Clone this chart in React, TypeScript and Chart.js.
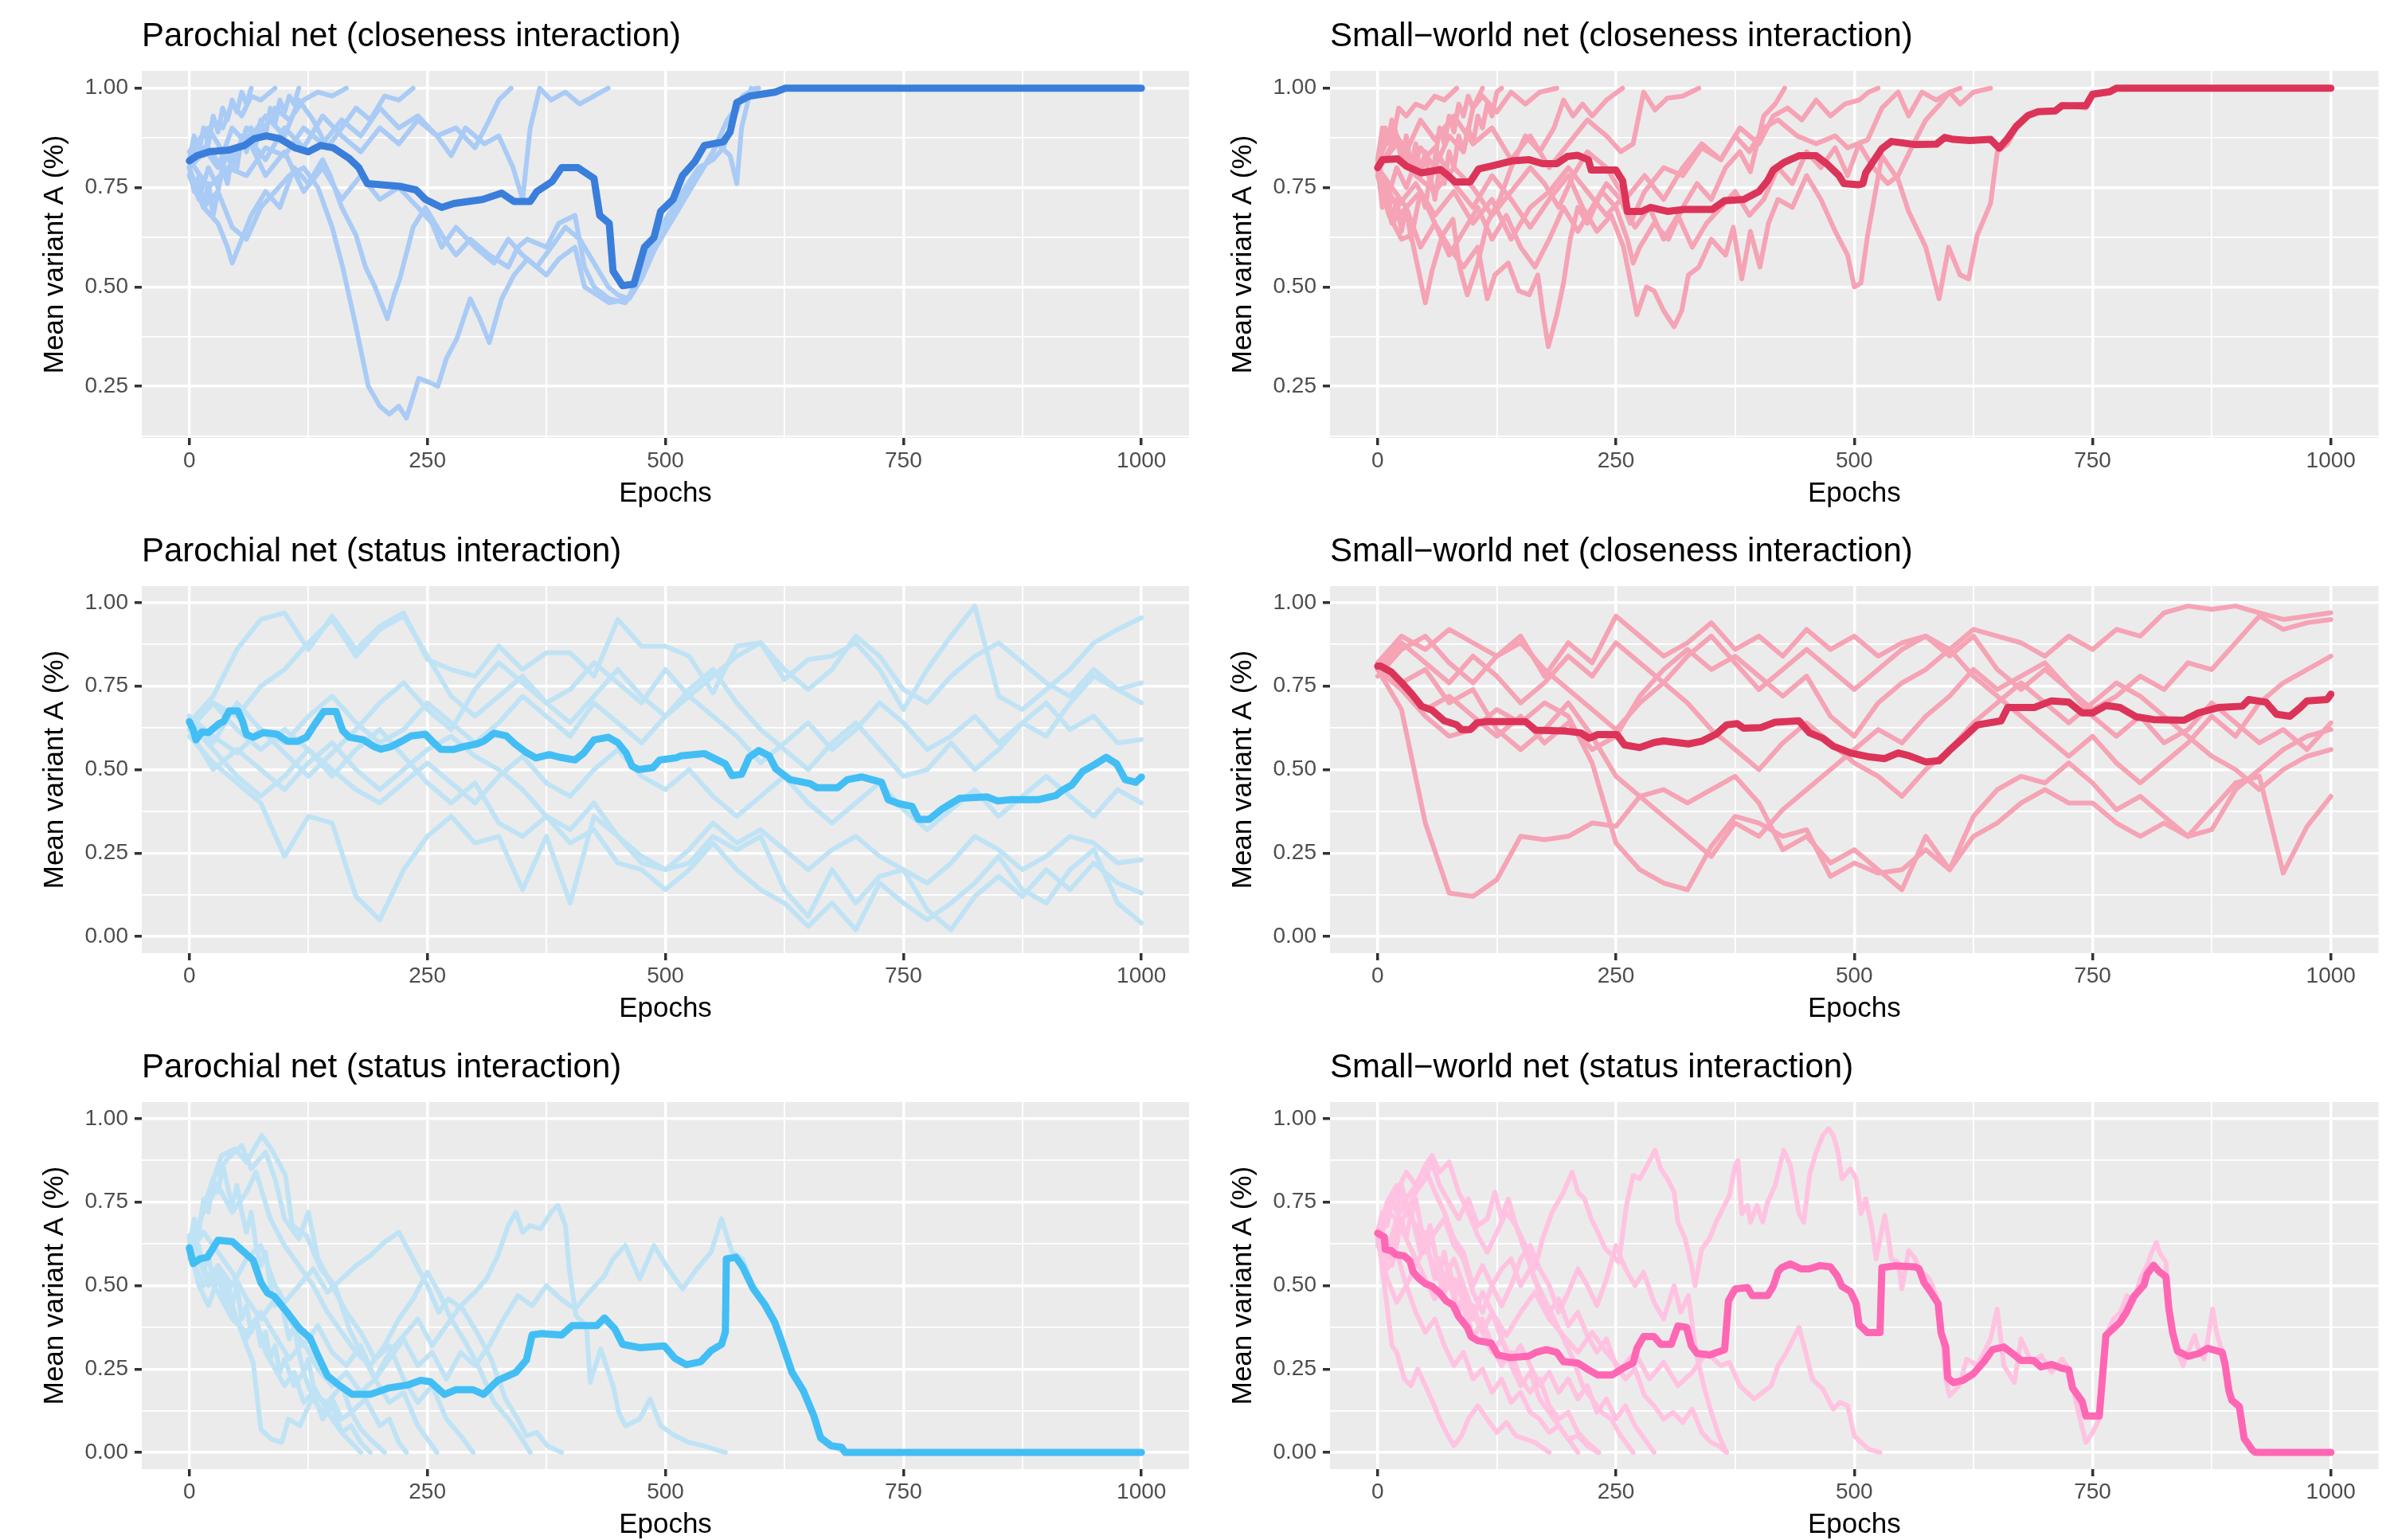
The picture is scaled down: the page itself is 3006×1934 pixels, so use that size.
import React, { useEffect, useRef } from "react";
import { Chart, registerables } from "chart.js";

Chart.register(...registerables);

type Pt = [number, number];

const FONT = "'Liberation Sans', Arial, Helvetica, sans-serif";

// ---------- axis ticks ----------
const xMajorTicks = [0, 250, 500, 750, 1000];
const xAllTicks = [0, 125, 250, 375, 500, 625, 750, 875, 1000];
const yMajorTop = [0.25, 0.5, 0.75, 1.0];
const yAllTop = [0.125, 0.25, 0.375, 0.5, 0.625, 0.75, 0.875, 1.0];
const yMajorFull = [0, 0.25, 0.5, 0.75, 1.0];
const yAllFull = [0, 0.125, 0.25, 0.375, 0.5, 0.625, 0.75, 0.875, 1.0];

// ---------- titles ----------
const titles = [
  "Parochial net (closeness interaction)",
  "Small\u2212world net (closeness interaction)",
  "Parochial net (status interaction)",
  "Small\u2212world net (closeness interaction)",
  "Parochial net (status interaction)",
  "Small\u2212world net (status interaction)",
];

// ---------- Panel 1: Parochial closeness ----------
const p1Mean: Pt[] = [[0,0.817],[8,0.83],[21,0.84],[41,0.844],[58,0.856],[68,0.873],[81,0.88],[95,0.873],[111,0.85],[125,0.84],[138,0.856],[151,0.85],[168,0.823],[178,0.8],[187,0.76],[201,0.757],[221,0.753],[238,0.744],[248,0.72],[265,0.7],[278,0.71],[308,0.72],[328,0.736],[341,0.715],[358,0.715],[365,0.74],[381,0.765],[391,0.8],[408,0.8],[425,0.773],[431,0.68],[441,0.66],[445,0.54],[455,0.503],[467,0.507],[478,0.6],[488,0.624],[495,0.69],[508,0.72],[518,0.78],[531,0.815],[541,0.856],[561,0.865],[568,0.89],[575,0.964],[588,0.98],[615,0.99],[626,1.0],[1000,1.0]];
const p1Run1: Pt[] = [[0,0.8],[8,0.86],[15,0.83],[25,0.92],[35,0.9],[45,0.96],[55,0.93],[65,0.98],[75,0.97],[90,1.0]];
const p1Run2: Pt[] = [[0,0.78],[10,0.72],[20,0.8],[30,0.75],[40,0.85],[50,0.82],[60,0.9],[75,0.88],[90,0.95],[105,0.92],[120,0.97],[135,0.99],[150,0.98],[165,1.0]];
const p1Run3: Pt[] = [[0,0.8],[15,0.85],[30,0.8],[45,0.9],[60,0.86],[80,0.93],[100,0.88],[115,0.97],[130,0.92],[145,0.85],[160,0.9],[175,0.95],[190,0.92],[205,0.98],[220,0.97],[235,1.0]];
const p1Run4: Pt[] = [[0,0.82],[20,0.75],[40,0.8],[60,0.78],[80,0.85],[100,0.83],[120,0.9],[140,0.86],[160,0.92],[180,0.88],[200,0.95],[220,0.9],[240,0.93],[260,0.88],[280,0.9],[300,0.85],[315,0.92],[325,0.97],[338,1.0]];
const p1Run5: Pt[] = [[0,0.8],[20,0.85],[40,0.78],[60,0.88],[80,0.82],[100,0.9],[120,0.85],[140,0.93],[160,0.88],[180,0.84],[200,0.9],[220,0.86],[240,0.92],[260,0.88],[275,0.83],[290,0.9],[310,0.86],[325,0.88],[340,0.8],[350,0.72],[358,0.9],[368,1.0],[380,0.97],[395,0.99],[410,0.96],[425,0.98],[440,1.0]];
const p1Run6: Pt[] = [[0,0.8],[15,0.7],[30,0.74],[45,0.65],[60,0.62],[75,0.7],[90,0.74],[105,0.78],[120,0.8],[135,0.75],[150,0.65],[161,0.55],[175,0.4],[188,0.25],[200,0.2],[210,0.18],[220,0.2],[228,0.17],[241,0.27],[252,0.26],[261,0.25],[270,0.32],[281,0.37],[295,0.47],[305,0.42],[315,0.36],[328,0.47],[341,0.53],[355,0.57],[375,0.53],[388,0.57],[405,0.6],[415,0.5],[428,0.48],[441,0.46],[461,0.47],[475,0.55],[495,0.65],[508,0.7],[521,0.75],[535,0.8],[550,0.82],[561,0.85],[568,0.9],[581,0.98],[595,1.0]];
const p1Run7: Pt[] = [[0,0.78],[15,0.7],[30,0.66],[40,0.6],[45,0.56],[55,0.62],[65,0.68],[80,0.74],[95,0.7],[110,0.8],[125,0.76],[140,0.82],[148,0.78],[160,0.7],[175,0.63],[185,0.55],[195,0.5],[208,0.42],[215,0.48],[221,0.52],[235,0.65],[248,0.7],[258,0.66],[268,0.62],[280,0.58],[295,0.62],[315,0.58],[335,0.55],[345,0.6],[355,0.62],[375,0.6],[388,0.66],[405,0.68],[415,0.55],[425,0.5],[441,0.47],[458,0.46],[468,0.5],[480,0.56],[495,0.62],[510,0.7],[525,0.75],[540,0.8],[555,0.86],[568,0.83],[575,0.76],[580,0.9],[590,1.0]];
const p1Run8: Pt[] = [[0,0.84],[20,0.9],[40,0.82],[60,0.88],[80,0.78],[100,0.84],[120,0.74],[140,0.8],[160,0.72],[180,0.78],[200,0.72],[220,0.75],[240,0.7],[255,0.66],[265,0.6],[280,0.65],[300,0.6],[320,0.56],[335,0.62],[350,0.58],[365,0.55],[380,0.6],[395,0.65],[410,0.62],[425,0.56],[440,0.5],[450,0.48],[462,0.47],[475,0.52],[490,0.6],[505,0.66],[520,0.72],[535,0.78],[550,0.84],[565,0.92],[580,0.97],[598,1.0]];
const p1Run9: Pt[] = [[0,0.82],[5,0.88],[10,0.84],[15,0.9],[20,0.86],[25,0.93],[30,0.89],[35,0.95],[40,0.92],[45,0.97],[50,0.94],[55,0.99],[60,0.96],[65,1.0]];
const p1Run10: Pt[] = [[0,0.8],[5,0.74],[10,0.78],[15,0.7],[20,0.76],[25,0.68],[30,0.74],[35,0.8],[40,0.76],[45,0.84],[50,0.8],[55,0.88],[60,0.84],[65,0.9],[70,0.86],[75,0.92],[80,0.88],[85,0.95],[90,0.91],[95,0.97],[100,0.94],[105,0.98],[110,0.96],[115,1.0]];

// ---------- Panel 2: Small-world closeness ----------
const p2Mean: Pt[] = [[0,0.8],[5,0.82],[21,0.822],[30,0.804],[46,0.787],[54,0.79],[66,0.795],[74,0.78],[81,0.764],[97,0.764],[106,0.797],[119,0.804],[141,0.817],[159,0.82],[173,0.81],[188,0.81],[199,0.828],[210,0.831],[221,0.82],[224,0.794],[250,0.794],[257,0.767],[262,0.69],[277,0.69],[286,0.7],[304,0.69],[322,0.695],[351,0.695],[364,0.717],[384,0.72],[400,0.74],[409,0.767],[415,0.794],[427,0.814],[442,0.83],[460,0.83],[471,0.81],[484,0.78],[489,0.76],[504,0.757],[509,0.76],[512,0.787],[529,0.848],[539,0.866],[564,0.858],[586,0.859],[595,0.876],[604,0.871],[621,0.868],[643,0.871],[652,0.849],[661,0.874],[670,0.904],[682,0.931],[693,0.941],[711,0.943],[718,0.956],[743,0.956],[750,0.985],[768,0.991],[775,1.0],[1000,1.0]];
const p2Run1: Pt[] = [[0,0.8],[8,0.9],[15,0.86],[22,0.95],[30,0.93],[40,0.96],[50,0.95],[60,0.98],[70,0.97],[83,1.0]];
const p2Run2: Pt[] = [[0,0.82],[10,0.72],[20,0.8],[30,0.75],[45,0.85],[60,0.8],[75,0.88],[90,0.84],[100,0.95],[110,0.98],[125,0.94],[140,0.99],[155,0.96],[170,0.99],[188,1.0]];
const p2Run3: Pt[] = [[0,0.78],[12,0.68],[25,0.62],[35,0.63],[43,0.54],[50,0.46],[57,0.54],[68,0.63],[79,0.67],[86,0.55],[94,0.48],[105,0.56],[115,0.66],[128,0.72],[140,0.8],[155,0.88],[170,0.84],[185,0.9],[195,0.97],[205,0.93],[215,0.96],[225,0.93],[240,0.97],[257,1.0]];
const p2Run4: Pt[] = [[0,0.8],[15,0.75],[30,0.7],[45,0.74],[60,0.66],[75,0.6],[90,0.55],[105,0.6],[115,0.47],[123,0.53],[137,0.56],[148,0.49],[159,0.48],[168,0.53],[173,0.44],[179,0.35],[188,0.43],[195,0.51],[202,0.62],[210,0.7],[220,0.66],[235,0.74],[250,0.7],[262,0.62],[268,0.56],[275,0.6],[290,0.66],[305,0.62],[320,0.7],[335,0.76],[350,0.72],[365,0.8],[380,0.84],[391,0.79],[405,0.93],[417,0.96],[427,1.0]];
const p2Run5: Pt[] = [[0,0.79],[20,0.88],[40,0.8],[60,0.85],[80,0.76],[100,0.7],[120,0.78],[140,0.72],[160,0.65],[180,0.72],[200,0.78],[215,0.7],[230,0.64],[245,0.68],[258,0.6],[268,0.48],[272,0.43],[282,0.5],[290,0.49],[300,0.44],[311,0.4],[319,0.44],[326,0.53],[337,0.55],[350,0.62],[365,0.58],[373,0.65],[382,0.52],[391,0.64],[401,0.55],[410,0.66],[420,0.72],[435,0.7],[450,0.78],[465,0.72],[480,0.64],[493,0.58],[500,0.5],[507,0.51],[514,0.63],[529,0.83],[546,0.77],[557,0.69],[575,0.6],[589,0.47],[599,0.6],[611,0.53],[620,0.52],[629,0.63],[643,0.71],[650,0.84],[661,0.86],[670,0.9],[682,0.93],[693,0.94],[711,0.94],[718,0.96],[743,0.95],[750,0.98],[768,0.99],[775,1.0]];
const p2Run6: Pt[] = [[0,0.81],[15,0.9],[30,0.84],[45,0.92],[60,0.87],[80,0.93],[100,0.86],[120,0.9],[140,0.82],[160,0.88],[180,0.8],[200,0.86],[220,0.92],[240,0.88],[255,0.84],[268,0.86],[279,0.99],[291,0.945],[304,0.975],[320,0.98],[337,1.0]];
const p2Run7: Pt[] = [[0,0.8],[20,0.7],[40,0.76],[60,0.68],[80,0.74],[100,0.66],[120,0.72],[140,0.62],[160,0.7],[180,0.74],[200,0.8],[220,0.74],[240,0.68],[255,0.72],[265,0.66],[280,0.74],[300,0.8],[320,0.78],[340,0.85],[360,0.82],[380,0.9],[400,0.86],[415,0.93],[430,0.95],[445,0.92],[460,0.97],[475,0.93],[490,0.96],[505,0.97],[515,0.99],[525,1.0]];
const p2Run8: Pt[] = [[0,0.8],[20,0.86],[40,0.78],[60,0.74],[80,0.8],[100,0.75],[120,0.68],[140,0.74],[160,0.8],[175,0.76],[190,0.7],[205,0.78],[220,0.84],[240,0.8],[260,0.72],[280,0.78],[300,0.72],[320,0.8],[340,0.86],[360,0.82],[375,0.88],[390,0.84],[405,0.9],[420,0.92],[440,0.88],[460,0.86],[480,0.88],[493,0.85],[514,0.87],[529,0.95],[546,0.99],[557,0.93],[571,0.99],[586,0.97],[600,0.99],[611,0.96],[625,0.99],[643,1.0]];
const p2Run9: Pt[] = [[0,0.78],[15,0.66],[30,0.7],[45,0.6],[60,0.66],[75,0.58],[90,0.64],[105,0.7],[120,0.62],[135,0.68],[150,0.6],[165,0.55],[180,0.62],[195,0.7],[210,0.64],[225,0.7],[240,0.76],[255,0.72],[270,0.65],[285,0.7],[300,0.62],[315,0.68],[330,0.6],[345,0.66],[360,0.7],[375,0.74],[390,0.68],[405,0.72],[420,0.8],[435,0.76],[450,0.84],[465,0.8],[480,0.85],[493,0.78],[505,0.86],[520,0.8],[535,0.76],[546,0.78],[560,0.85],[575,0.92],[590,0.96],[600,0.99],[611,1.0]];
const p2Run10: Pt[] = [[0,0.8],[5,0.7],[10,0.76],[15,0.66],[20,0.72],[25,0.64],[30,0.7],[35,0.62],[40,0.68],[45,0.74],[50,0.7],[55,0.78],[60,0.72],[65,0.8],[70,0.76],[75,0.84],[80,0.8],[85,0.88],[90,0.84],[95,0.9],[100,0.86],[105,0.93],[110,0.9],[115,0.96],[120,0.93],[125,0.99],[130,1.0]];
const p2Run11: Pt[] = [[0,0.82],[5,0.9],[10,0.86],[15,0.92],[20,0.88],[25,0.82],[30,0.88],[35,0.8],[40,0.86],[45,0.78],[50,0.84],[55,0.76],[60,0.82],[65,0.9],[70,0.86],[75,0.93],[80,0.89],[85,0.96],[90,0.93],[95,0.98],[100,0.95],[110,1.0]];

// ---------- shared epoch grid for long runs ----------
const gridEpochs = [0,25,50,75,100,125,150,175,200,225,250,275,300,325,350,375,400,425,450,475,500,525,550,575,600,625,650,675,700,725,750,775,800,825,850,875,900,925,950,975,1000];

// ---------- Panel 3: Parochial status (never fixating) ----------
const p3Mean: Pt[] = [[0,0.644],[4,0.62],[7,0.589],[13,0.613],[20,0.611],[31,0.637],[36,0.644],[42,0.676],[51,0.676],[56,0.644],[60,0.605],[67,0.597],[78,0.611],[92,0.606],[103,0.585],[114,0.585],[123,0.597],[132,0.637],[141,0.674],[154,0.674],[161,0.617],[168,0.597],[183,0.589],[194,0.569],[201,0.561],[212,0.569],[223,0.585],[233,0.601],[248,0.606],[255,0.585],[264,0.561],[277,0.56],[288,0.569],[302,0.577],[309,0.585],[320,0.609],[333,0.601],[342,0.577],[353,0.553],[364,0.535],[378,0.545],[389,0.537],[405,0.529],[414,0.549],[425,0.589],[440,0.597],[450,0.581],[459,0.549],[465,0.51],[472,0.5],[487,0.506],[494,0.529],[511,0.535],[516,0.541],[541,0.548],[563,0.517],[570,0.482],[580,0.486],[588,0.537],[598,0.557],[609,0.541],[616,0.502],[631,0.47],[652,0.458],[659,0.446],[681,0.446],[691,0.47],[706,0.478],[727,0.462],[734,0.41],[745,0.398],[759,0.39],[766,0.351],[777,0.351],[791,0.383],[809,0.414],[838,0.418],[849,0.406],[863,0.41],[892,0.41],[910,0.422],[917,0.438],[927,0.454],[938,0.494],[952,0.517],[963,0.537],[974,0.517],[983,0.47],[994,0.462],[1000,0.478]];
const p3RunA = [0.64,0.72,0.86,0.95,0.97,0.86,0.96,0.86,0.93,0.97,0.83,0.80,0.78,0.87,0.80,0.85,0.85,0.78,0.95,0.87,0.87,0.84,0.73,0.87,0.88,0.77,0.83,0.84,0.88,0.80,0.68,0.80,0.90,0.99,0.72,0.68,0.74,0.80,0.88,0.92,0.955];
const p3RunB = [0.62,0.70,0.66,0.75,0.80,0.88,0.95,0.84,0.92,0.96,0.84,0.72,0.66,0.72,0.78,0.70,0.74,0.82,0.76,0.70,0.80,0.72,0.78,0.84,0.88,0.80,0.74,0.80,0.90,0.84,0.74,0.70,0.78,0.84,0.88,0.82,0.76,0.72,0.80,0.74,0.76];
const p3RunC = [0.66,0.60,0.55,0.62,0.58,0.66,0.72,0.64,0.58,0.62,0.70,0.64,0.58,0.64,0.72,0.66,0.60,0.70,0.64,0.58,0.66,0.72,0.66,0.60,0.52,0.58,0.64,0.56,0.62,0.70,0.64,0.56,0.60,0.66,0.58,0.64,0.70,0.62,0.66,0.58,0.59];
const p3RunD = [0.64,0.56,0.48,0.42,0.48,0.56,0.50,0.44,0.40,0.46,0.52,0.46,0.40,0.48,0.54,0.46,0.42,0.50,0.56,0.48,0.44,0.50,0.42,0.36,0.42,0.48,0.40,0.34,0.40,0.46,0.38,0.32,0.38,0.44,0.36,0.42,0.48,0.42,0.36,0.44,0.40];
const p3RunE = [0.62,0.50,0.56,0.50,0.44,0.52,0.58,0.50,0.44,0.50,0.56,0.60,0.54,0.50,0.44,0.36,0.32,0.40,0.30,0.24,0.20,0.26,0.34,0.28,0.32,0.26,0.20,0.26,0.30,0.24,0.20,0.16,0.22,0.30,0.26,0.20,0.24,0.30,0.28,0.22,0.23];
const p3RunF = [0.60,0.52,0.46,0.40,0.24,0.36,0.34,0.12,0.05,0.20,0.30,0.36,0.28,0.30,0.14,0.30,0.10,0.36,0.30,0.22,0.20,0.22,0.30,0.26,0.30,0.14,0.06,0.20,0.10,0.18,0.20,0.08,0.02,0.12,0.18,0.12,0.20,0.14,0.22,0.16,0.13];
const p3RunG = [0.64,0.70,0.62,0.56,0.62,0.56,0.48,0.56,0.62,0.54,0.46,0.40,0.46,0.34,0.30,0.36,0.28,0.32,0.22,0.20,0.14,0.20,0.28,0.20,0.14,0.10,0.03,0.10,0.02,0.16,0.10,0.05,0.10,0.16,0.24,0.14,0.10,0.20,0.26,0.10,0.04];
const p3RunH = [0.66,0.58,0.70,0.62,0.55,0.48,0.55,0.62,0.70,0.76,0.68,0.62,0.74,0.82,0.76,0.70,0.64,0.72,0.80,0.72,0.66,0.74,0.80,0.70,0.62,0.56,0.50,0.58,0.64,0.56,0.48,0.50,0.58,0.50,0.56,0.64,0.60,0.70,0.78,0.74,0.70];

// ---------- Panel 4: Small-world closeness (never fixating) ----------
const p4Mean: Pt[] = [[0,0.81],[3,0.81],[14,0.793],[25,0.761],[36,0.726],[46,0.69],[57,0.678],[70,0.646],[83,0.634],[88,0.62],[97,0.62],[104,0.64],[115,0.644],[155,0.644],[166,0.618],[195,0.616],[213,0.61],[222,0.594],[231,0.605],[251,0.605],[259,0.574],[275,0.566],[290,0.581],[300,0.586],[326,0.577],[340,0.585],[355,0.606],[366,0.634],[377,0.638],[384,0.624],[402,0.626],[417,0.642],[442,0.646],[453,0.61],[467,0.594],[478,0.57],[496,0.55],[514,0.539],[532,0.533],[546,0.55],[557,0.542],[575,0.523],[589,0.527],[600,0.558],[614,0.594],[629,0.634],[654,0.646],[661,0.686],[689,0.686],[707,0.706],[725,0.702],[739,0.67],[750,0.67],[764,0.692],[779,0.686],[796,0.658],[814,0.65],[846,0.648],[861,0.67],[882,0.686],[907,0.69],[914,0.71],[932,0.702],[943,0.666],[957,0.66],[968,0.686],[975,0.706],[996,0.71],[1000,0.726]];
const p4RunA = [0.82,0.90,0.86,0.92,0.88,0.84,0.90,0.78,0.88,0.82,0.96,0.90,0.84,0.88,0.94,0.86,0.90,0.84,0.92,0.86,0.90,0.84,0.88,0.90,0.86,0.92,0.90,0.88,0.84,0.90,0.86,0.92,0.90,0.97,0.99,0.98,0.99,0.97,0.95,0.96,0.97];
const p4RunB = [0.80,0.88,0.82,0.76,0.84,0.78,0.70,0.76,0.84,0.78,0.88,0.82,0.76,0.84,0.90,0.82,0.74,0.80,0.86,0.80,0.74,0.80,0.86,0.90,0.84,0.90,0.80,0.74,0.80,0.74,0.68,0.72,0.78,0.74,0.82,0.80,0.88,0.96,0.92,0.94,0.95];
const p4RunC = [0.80,0.74,0.68,0.72,0.66,0.60,0.66,0.58,0.64,0.56,0.60,0.72,0.80,0.86,0.80,0.84,0.78,0.72,0.78,0.66,0.60,0.70,0.76,0.80,0.86,0.78,0.72,0.66,0.60,0.54,0.60,0.52,0.46,0.52,0.58,0.66,0.60,0.70,0.76,0.80,0.84];
const p4RunD = [0.82,0.76,0.80,0.70,0.74,0.62,0.56,0.62,0.70,0.60,0.48,0.42,0.36,0.30,0.24,0.34,0.30,0.38,0.44,0.50,0.56,0.62,0.58,0.66,0.72,0.80,0.74,0.78,0.82,0.74,0.66,0.60,0.66,0.58,0.62,0.70,0.64,0.58,0.62,0.56,0.64];
const p4RunE = [0.80,0.68,0.34,0.13,0.12,0.17,0.30,0.29,0.30,0.34,0.33,0.42,0.44,0.40,0.44,0.48,0.40,0.26,0.30,0.22,0.26,0.20,0.14,0.30,0.20,0.36,0.44,0.48,0.46,0.52,0.46,0.38,0.42,0.36,0.30,0.38,0.46,0.48,0.19,0.33,0.42];
const p4RunF = [0.80,0.74,0.66,0.60,0.62,0.68,0.64,0.70,0.66,0.52,0.28,0.20,0.16,0.14,0.27,0.36,0.34,0.30,0.32,0.18,0.22,0.19,0.20,0.26,0.20,0.30,0.34,0.40,0.44,0.40,0.40,0.34,0.30,0.34,0.30,0.32,0.44,0.50,0.56,0.60,0.62];
const p4RunG = [0.78,0.86,0.90,0.82,0.76,0.84,0.88,0.80,0.74,0.68,0.62,0.70,0.76,0.70,0.62,0.56,0.50,0.58,0.64,0.58,0.52,0.48,0.42,0.50,0.56,0.64,0.70,0.76,0.70,0.64,0.70,0.76,0.72,0.66,0.60,0.54,0.50,0.44,0.50,0.54,0.56];

// ---------- Panel 5: Parochial status (fixating at 0) ----------
const p5Mean: Pt[] = [[0,0.613],[4,0.566],[11,0.58],[19,0.585],[30,0.636],[45,0.632],[56,0.604],[67,0.576],[75,0.51],[82,0.478],[89,0.468],[101,0.426],[116,0.37],[127,0.342],[134,0.296],[145,0.23],[157,0.202],[171,0.174],[190,0.174],[209,0.193],[229,0.202],[243,0.216],[253,0.212],[268,0.174],[280,0.188],[298,0.188],[309,0.174],[324,0.216],[343,0.24],[354,0.277],[360,0.352],[369,0.356],[391,0.352],[402,0.38],[428,0.38],[436,0.403],[447,0.37],[455,0.324],[473,0.314],[499,0.319],[510,0.282],[522,0.263],[537,0.272],[548,0.305],[559,0.324],[563,0.361],[564,0.58],[574,0.585],[581,0.557],[592,0.492],[604,0.445],[615,0.389],[622,0.333],[633,0.24],[645,0.184],[656,0.109],[663,0.044],[674,0.02],[685,0.016],[689,0.0],[1000,0.0]];
const p5Run1: Pt[] = [[0,0.62],[10,0.5],[20,0.44],[30,0.52],[40,0.45],[50,0.4],[60,0.34],[70,0.4],[80,0.3],[90,0.25],[100,0.2],[110,0.24],[120,0.15],[130,0.18],[140,0.1],[150,0.14],[160,0.06],[170,0.08],[180,0.03],[190,0.0]];
const p5Run2: Pt[] = [[0,0.65],[10,0.58],[20,0.5],[30,0.55],[40,0.48],[50,0.4],[60,0.32],[67,0.27],[75,0.07],[86,0.04],[97,0.03],[104,0.1],[116,0.08],[130,0.17],[145,0.15],[160,0.2],[170,0.12],[185,0.16],[200,0.08],[210,0.1],[220,0.03],[228,0.0]];
const p5Run3: Pt[] = [[0,0.6],[10,0.68],[19,0.77],[34,0.89],[48,0.91],[60,0.87],[76,0.95],[86,0.91],[101,0.83],[108,0.68],[123,0.65],[138,0.55],[153,0.5],[168,0.37],[180,0.3],[195,0.22],[210,0.15],[225,0.18],[240,0.08],[250,0.04],[260,0.0]];
const p5Run4: Pt[] = [[0,0.58],[12,0.7],[25,0.82],[40,0.88],[55,0.92],[65,0.85],[80,0.9],[90,0.82],[100,0.7],[115,0.64],[125,0.72],[135,0.58],[150,0.5],[165,0.42],[180,0.36],[195,0.28],[210,0.32],[225,0.22],[240,0.15],[255,0.2],[270,0.1],[285,0.05],[298,0.0]];
const p5Run5: Pt[] = [[0,0.6],[15,0.5],[30,0.56],[45,0.5],[60,0.58],[75,0.62],[90,0.5],[100,0.45],[115,0.5],[130,0.55],[145,0.48],[160,0.52],[175,0.56],[190,0.59],[205,0.63],[220,0.66],[235,0.58],[250,0.5],[262,0.42],[272,0.46],[287,0.43],[302,0.36],[317,0.28],[332,0.16],[345,0.1],[354,0.05],[365,0.06],[376,0.02],[391,0.0]];
const p5Run6: Pt[] = [[0,0.64],[15,0.72],[30,0.8],[45,0.72],[60,0.78],[70,0.84],[85,0.7],[100,0.62],[115,0.56],[130,0.5],[145,0.42],[160,0.36],[175,0.3],[190,0.26],[205,0.32],[220,0.4],[235,0.46],[250,0.54],[262,0.48],[275,0.4],[290,0.33],[305,0.25],[320,0.15],[335,0.1],[345,0.06],[358,0.0]];
const p5Run7: Pt[] = [[0,0.62],[15,0.55],[30,0.48],[45,0.4],[60,0.36],[75,0.42],[90,0.35],[105,0.28],[120,0.33],[135,0.25],[150,0.2],[165,0.24],[180,0.18],[195,0.22],[210,0.3],[225,0.35],[240,0.4],[255,0.32],[270,0.38],[285,0.44],[300,0.48],[312,0.52],[324,0.59],[335,0.68],[343,0.72],[350,0.66],[358,0.68],[369,0.67],[380,0.72],[387,0.74],[395,0.68],[399,0.55],[406,0.41],[417,0.38],[421,0.21],[432,0.31],[445,0.2],[451,0.12],[458,0.08],[473,0.1],[484,0.16],[495,0.08],[510,0.05],[525,0.03],[540,0.02],[563,0.0]];
const p5Run8: Pt[] = [[0,0.6],[15,0.66],[30,0.6],[45,0.54],[60,0.46],[75,0.4],[90,0.46],[105,0.4],[120,0.32],[135,0.38],[150,0.3],[165,0.26],[180,0.32],[195,0.22],[210,0.28],[225,0.34],[240,0.26],[255,0.3],[270,0.22],[285,0.3],[300,0.26],[315,0.32],[330,0.4],[345,0.47],[360,0.44],[375,0.5],[390,0.46],[405,0.43],[420,0.48],[436,0.53],[445,0.58],[458,0.62],[473,0.52],[488,0.62],[503,0.55],[518,0.49],[533,0.55],[548,0.6],[559,0.7],[570,0.6],[581,0.58],[592,0.5],[604,0.44],[615,0.39],[622,0.33],[633,0.24],[645,0.19],[656,0.12],[663,0.05],[674,0.02],[689,0.0]];
const p5Run9: Pt[] = [[0,0.62],[5,0.7],[10,0.66],[15,0.76],[20,0.72],[25,0.82],[30,0.78],[35,0.86],[40,0.8],[45,0.74],[50,0.8],[55,0.72],[60,0.66],[65,0.72],[70,0.62],[75,0.56],[80,0.6],[85,0.5],[90,0.44],[95,0.48],[100,0.4],[105,0.34],[110,0.38],[115,0.3],[120,0.24],[125,0.28],[130,0.2],[140,0.15],[150,0.1],[160,0.06],[170,0.03],[180,0.0]];
const p5Run10: Pt[] = [[0,0.64],[5,0.58],[10,0.62],[15,0.54],[20,0.6],[25,0.5],[30,0.56],[35,0.48],[40,0.52],[45,0.44],[50,0.5],[55,0.4],[60,0.44],[65,0.36],[70,0.4],[75,0.32],[80,0.36],[85,0.28],[90,0.32],[95,0.24],[100,0.28],[110,0.2],[120,0.24],[130,0.16],[140,0.12],[150,0.16],[160,0.1],[170,0.12],[180,0.07],[190,0.04],[205,0.0]];

// ---------- Panel 6: Small-world status (fixating at 0) ----------
const p6Mean: Pt[] = [[0,0.657],[7,0.645],[8,0.609],[14,0.605],[19,0.593],[28,0.589],[34,0.573],[37,0.542],[43,0.522],[50,0.506],[57,0.498],[65,0.478],[72,0.454],[79,0.442],[85,0.407],[94,0.375],[98,0.347],[105,0.335],[119,0.328],[126,0.292],[139,0.284],[159,0.289],[166,0.3],[177,0.308],[188,0.3],[195,0.272],[210,0.268],[221,0.248],[231,0.232],[246,0.232],[257,0.252],[268,0.268],[272,0.312],[279,0.347],[290,0.347],[297,0.324],[308,0.324],[313,0.363],[315,0.379],[324,0.375],[329,0.32],[335,0.297],[348,0.292],[364,0.308],[368,0.454],[375,0.49],[388,0.494],[393,0.47],[409,0.47],[415,0.498],[420,0.542],[424,0.554],[433,0.565],[444,0.55],[453,0.55],[464,0.56],[475,0.556],[482,0.53],[487,0.498],[496,0.482],[502,0.446],[505,0.383],[514,0.359],[527,0.359],[529,0.554],[543,0.559],[564,0.556],[568,0.55],[573,0.51],[580,0.482],[588,0.446],[591,0.359],[596,0.316],[598,0.224],[604,0.209],[614,0.216],[625,0.236],[636,0.272],[645,0.308],[657,0.316],[668,0.292],[675,0.276],[688,0.276],[696,0.256],[707,0.264],[718,0.252],[725,0.248],[729,0.193],[739,0.153],[743,0.109],[757,0.109],[761,0.248],[764,0.351],[779,0.391],[786,0.423],[793,0.466],[804,0.502],[807,0.534],[814,0.561],[820,0.542],[827,0.526],[830,0.431],[834,0.359],[839,0.304],[850,0.288],[861,0.296],[871,0.312],[886,0.3],[889,0.264],[893,0.185],[896,0.157],[904,0.137],[909,0.042],[918,0.006],[921,0.0],[1000,0.0]];
const p6Run1: Pt[] = [[0,0.66],[10,0.72],[20,0.7],[30,0.76],[40,0.8],[50,0.86],[57,0.89],[65,0.84],[75,0.87],[85,0.78],[95,0.72],[105,0.65],[115,0.6],[125,0.66],[135,0.72],[145,0.68],[155,0.62],[165,0.55],[173,0.64],[183,0.72],[195,0.78],[204,0.84],[210,0.78],[217,0.76],[224,0.7],[231,0.66],[239,0.61],[253,0.57],[261,0.74],[268,0.83],[275,0.82],[284,0.867],[291,0.906],[297,0.85],[304,0.82],[311,0.78],[315,0.69],[322,0.645],[329,0.565],[333,0.5],[340,0.61],[348,0.64],[355,0.69],[362,0.73],[369,0.77],[375,0.86],[378,0.875],[382,0.715],[388,0.74],[391,0.69],[398,0.74],[404,0.69],[409,0.75],[417,0.8],[426,0.906],[433,0.86],[442,0.716],[447,0.69],[453,0.83],[460,0.9],[467,0.95],[473,0.97],[478,0.95],[483,0.9],[487,0.82],[496,0.85],[502,0.82],[507,0.716],[512,0.76],[518,0.68],[523,0.58],[527,0.64],[532,0.71],[536,0.64],[539,0.58],[546,0.57],[550,0.49],[557,0.605],[564,0.58],[568,0.55],[579,0.52],[586,0.47],[591,0.38],[596,0.22],[600,0.17],[610,0.2],[618,0.28],[629,0.26],[636,0.3],[643,0.34],[650,0.43],[657,0.26],[668,0.21],[675,0.34],[686,0.27],[696,0.29],[707,0.24],[718,0.28],[725,0.25],[729,0.2],[735,0.12],[743,0.03],[750,0.06],[757,0.1],[761,0.26],[764,0.35],[772,0.4],[779,0.42],[786,0.47],[793,0.45],[800,0.52],[807,0.56],[812,0.6],[817,0.63],[820,0.6],[827,0.57],[830,0.45],[834,0.36],[839,0.3],[845,0.26],[850,0.3],[857,0.35],[861,0.31],[867,0.28],[871,0.34],[876,0.43],[880,0.36],[886,0.3],[889,0.26],[893,0.19],[896,0.157],[904,0.14],[909,0.05],[915,0.01],[921,0.0]];
const p6Run2: Pt[] = [[0,0.64],[10,0.55],[20,0.6],[30,0.5],[40,0.56],[50,0.62],[60,0.55],[70,0.48],[80,0.52],[90,0.45],[100,0.4],[110,0.48],[120,0.42],[135,0.35],[150,0.42],[165,0.48],[180,0.4],[195,0.35],[210,0.3],[225,0.36],[240,0.3],[255,0.25],[270,0.3],[285,0.22],[300,0.27],[315,0.2],[330,0.24],[345,0.3],[360,0.26],[369,0.27],[380,0.2],[395,0.16],[413,0.2],[420,0.26],[427,0.29],[442,0.375],[449,0.3],[456,0.22],[467,0.19],[478,0.13],[485,0.15],[493,0.14],[500,0.05],[507,0.03],[515,0.01],[527,0.0]];
const p6Run3: Pt[] = [[0,0.62],[10,0.7],[20,0.78],[30,0.84],[40,0.8],[50,0.85],[60,0.78],[70,0.72],[80,0.64],[90,0.6],[100,0.5],[110,0.56],[120,0.5],[130,0.55],[140,0.58],[150,0.5],[160,0.55],[170,0.48],[180,0.42],[190,0.46],[200,0.38],[210,0.42],[220,0.35],[230,0.3],[240,0.34],[250,0.26],[260,0.22],[270,0.25],[280,0.17],[290,0.14],[300,0.1],[310,0.12],[320,0.09],[330,0.13],[340,0.06],[350,0.03],[358,0.02],[366,0.0]];
const p6Run4: Pt[] = [[0,0.66],[10,0.58],[20,0.66],[30,0.72],[40,0.68],[50,0.6],[60,0.66],[70,0.7],[80,0.62],[90,0.58],[100,0.48],[110,0.42],[120,0.5],[130,0.44],[140,0.5],[150,0.58],[160,0.62],[170,0.55],[180,0.5],[190,0.42],[200,0.48],[210,0.55],[220,0.5],[230,0.44],[240,0.52],[250,0.62],[260,0.55],[270,0.5],[279,0.54],[290,0.45],[300,0.4],[311,0.5],[318,0.42],[326,0.47],[334,0.3],[342,0.2],[350,0.12],[358,0.05],[366,0.0]];
const p6Run5: Pt[] = [[0,0.65],[10,0.75],[20,0.8],[30,0.72],[40,0.78],[50,0.82],[57,0.87],[65,0.8],[75,0.75],[85,0.7],[95,0.76],[105,0.68],[115,0.7],[123,0.78],[130,0.7],[137,0.76],[145,0.68],[155,0.6],[165,0.52],[175,0.46],[185,0.4],[195,0.34],[205,0.28],[215,0.2],[225,0.16],[235,0.12],[245,0.1],[255,0.05],[268,0.0]];
const p6Run6: Pt[] = [[0,0.63],[10,0.52],[20,0.45],[30,0.5],[40,0.42],[50,0.36],[60,0.4],[70,0.32],[80,0.26],[90,0.3],[100,0.22],[110,0.25],[120,0.18],[130,0.22],[140,0.15],[150,0.18],[160,0.12],[170,0.1],[180,0.06],[190,0.08],[200,0.04],[210,0.05],[220,0.02],[231,0.0]];
const p6Run7: Pt[] = [[0,0.66],[8,0.48],[15,0.32],[20,0.3],[28,0.22],[35,0.2],[42,0.25],[50,0.2],[58,0.15],[65,0.1],[72,0.06],[80,0.02],[88,0.05],[95,0.1],[105,0.14],[115,0.1],[125,0.06],[135,0.09],[145,0.05],[155,0.04],[165,0.03],[180,0.0]];
const p6Run8: Pt[] = [[0,0.65],[10,0.6],[20,0.7],[30,0.64],[40,0.58],[50,0.52],[60,0.46],[70,0.52],[80,0.58],[90,0.5],[100,0.42],[110,0.36],[120,0.42],[130,0.34],[140,0.28],[150,0.32],[160,0.26],[170,0.2],[180,0.24],[190,0.18],[200,0.22],[210,0.16],[220,0.2],[230,0.12],[240,0.16],[250,0.1],[260,0.14],[270,0.08],[280,0.04],[290,0.0]];
const p6Run9: Pt[] = [[0,0.66],[5,0.72],[10,0.68],[15,0.76],[20,0.72],[25,0.8],[30,0.75],[35,0.7],[40,0.76],[45,0.68],[50,0.62],[55,0.68],[60,0.6],[65,0.54],[70,0.6],[75,0.52],[80,0.46],[85,0.52],[90,0.44],[95,0.38],[100,0.44],[110,0.36],[120,0.3],[130,0.34],[140,0.26],[150,0.2],[160,0.24],[170,0.16],[180,0.12],[190,0.08],[200,0.04],[210,0.0]];
const p6Run10: Pt[] = [[0,0.64],[5,0.58],[10,0.64],[15,0.56],[20,0.62],[25,0.7],[30,0.64],[35,0.72],[40,0.66],[45,0.6],[50,0.66],[55,0.58],[60,0.52],[65,0.58],[70,0.5],[75,0.56],[80,0.48],[85,0.42],[90,0.48],[95,0.4],[100,0.34],[110,0.4],[120,0.32],[130,0.26],[140,0.3],[150,0.22],[160,0.18],[170,0.22],[180,0.14],[190,0.1],[200,0.12],[210,0.06],[220,0.03],[232,0.0]];

// ---------- colours ----------
const blueDark = "#3A7EDC";
const blueLight = "#A9CBF6";
const skyDark = "#42BEF5";
const skyLight = "#BFE3F5";
const redDark = "#DC3459";
const redLight = "#F5A3B5";
const pinkDark = "#FF66B3";
const pinkLight = "#FFC3E1";

const onGrid = (vals: number[]): Pt[] => vals.map((v, i) => [gridEpochs[i], v] as Pt);

type PanelCfg = {
  title: string;
  left: number;
  top: number;
  width: number;
  padRight: number;
  yMin: number;
  yMax: number;
  yTicks: number[];
  yMajor: number[];
  mean: Pt[];
  runs: Pt[][];
  meanColor: string;
  runColor: string;
};

const ROW_H = 647;
const LEFT_W = 1500;
const RIGHT_X = 1492;
const RIGHT_W = 1514;

const panels: PanelCfg[] = [
  { title: titles[0], left: 0, top: 0, width: LEFT_W, padRight: 7, yMin: 0.12, yMax: 1.0435, yTicks: yAllTop, yMajor: yMajorTop,
    mean: p1Mean, runs: [p1Run1, p1Run2, p1Run3, p1Run4, p1Run5, p1Run6, p1Run7, p1Run8, p1Run9, p1Run10], meanColor: blueDark, runColor: blueLight },
  { title: titles[1], left: RIGHT_X, top: 0, width: RIGHT_W, padRight: 19.4, yMin: 0.12, yMax: 1.0435, yTicks: yAllTop, yMajor: yMajorTop,
    mean: p2Mean, runs: [p2Run1, p2Run2, p2Run3, p2Run4, p2Run5, p2Run6, p2Run7, p2Run8, p2Run9, p2Run10, p2Run11], meanColor: redDark, runColor: redLight },
  { title: titles[2], left: 0, top: ROW_H, width: LEFT_W, padRight: 7, yMin: -0.05, yMax: 1.05, yTicks: yAllFull, yMajor: yMajorFull,
    mean: p3Mean, runs: [p3RunA, p3RunB, p3RunC, p3RunD, p3RunE, p3RunF, p3RunG, p3RunH].map(onGrid), meanColor: skyDark, runColor: skyLight },
  { title: titles[3], left: RIGHT_X, top: ROW_H, width: RIGHT_W, padRight: 19.4, yMin: -0.05, yMax: 1.05, yTicks: yAllFull, yMajor: yMajorFull,
    mean: p4Mean, runs: [p4RunA, p4RunB, p4RunC, p4RunD, p4RunE, p4RunF, p4RunG].map(onGrid), meanColor: redDark, runColor: redLight },
  { title: titles[4], left: 0, top: 2 * ROW_H + 1, width: LEFT_W, padRight: 7, yMin: -0.05, yMax: 1.05, yTicks: yAllFull, yMajor: yMajorFull,
    mean: p5Mean, runs: [p5Run1, p5Run2, p5Run3, p5Run4, p5Run5, p5Run6, p5Run7, p5Run8, p5Run9, p5Run10], meanColor: skyDark, runColor: skyLight },
  { title: titles[5], left: RIGHT_X, top: 2 * ROW_H + 1, width: RIGHT_W, padRight: 19.4, yMin: -0.05, yMax: 1.05, yTicks: yAllFull, yMajor: yMajorFull,
    mean: p6Mean, runs: [p6Run1, p6Run2, p6Run3, p6Run4, p6Run5, p6Run6, p6Run7, p6Run8, p6Run9, p6Run10], meanColor: pinkDark, runColor: pinkLight },
];

const panelBg = {
  id: "panelBg",
  beforeDraw(chart: any) {
    const { ctx, chartArea: a } = chart;
    ctx.save();
    ctx.fillStyle = "#EBEBEB";
    ctx.fillRect(a.left, a.top, a.right - a.left, a.bottom - a.top);
    ctx.restore();
  },
};

function Panel({ cfg }: { cfg: PanelCfg }) {
  const ref = useRef<HTMLCanvasElement>(null);
  useEffect(() => {
    const canvas = ref.current;
    if (!canvas) return;
    const toXY = (pts: Pt[]) => pts.map(([x, y]) => ({ x, y }));
    const lineBase = {
      pointRadius: 0,
      pointHoverRadius: 0,
      tension: 0,
      fill: false,
      borderJoinStyle: "round" as const,
      borderCapStyle: "round" as const,
    };
    const datasets: any[] = [
      { ...lineBase, data: toXY(cfg.mean), borderColor: cfg.meanColor, borderWidth: 9 },
      ...cfg.runs.map((r) => ({ ...lineBase, data: toXY(r), borderColor: cfg.runColor, borderWidth: 6 })),
    ];
    const isMajorX = (v: number) => xMajorTicks.includes(v);
    const isMajorY = (v: number) => cfg.yMajor.includes(v);
    const chart = new Chart(canvas, {
      type: "line",
      data: { datasets },
      plugins: [panelBg],
      options: {
        animation: false,
        responsive: false,
        devicePixelRatio: 1,
        events: [],
        layout: { padding: { left: 0, right: cfg.padRight, top: 0, bottom: 0 } },
        plugins: {
          legend: { display: false },
          tooltip: { enabled: false },
          title: {
            display: true,
            text: cfg.title,
            align: "start",
            fullSize: false,
            color: "#000000",
            font: { family: FONT, size: 42, weight: "normal", lineHeight: 1.2 },
            padding: { top: 21, bottom: 17.6 },
          },
        },
        scales: {
          x: {
            type: "linear",
            min: -50,
            max: 1050,
            afterBuildTicks: (s: any) => {
              s.ticks = xAllTicks.map((v) => ({ value: v }));
            },
            afterFit: (s: any) => {
              s.height = ROW_H - 550;
            },
            border: { display: false },
            grid: {
              color: "#FFFFFF",
              lineWidth: (c: any) => (c.tick && isMajorX(c.tick.value) ? 3.5 : 1.8),
              drawTicks: true,
              tickLength: 9,
              tickWidth: 3.5,
              tickColor: (c: any) => (c.tick && isMajorX(c.tick.value) ? "#333333" : "rgba(0,0,0,0)"),
            },
            ticks: {
              autoSkip: false,
              maxRotation: 0,
              minRotation: 0,
              padding: 3.5,
              color: "#4D4D4D",
              font: { family: FONT, size: 28 },
              callback: (v: any) => (isMajorX(v) ? String(v) : ""),
            },
            title: {
              display: true,
              text: "Epochs",
              color: "#000000",
              font: { family: FONT, size: 35 },
              padding: { top: 0, bottom: 6 },
            },
          },
          y: {
            type: "linear",
            min: cfg.yMin,
            max: cfg.yMax,
            afterBuildTicks: (s: any) => {
              s.ticks = cfg.yTicks.map((v) => ({ value: v }));
            },
            afterFit: (s: any) => {
              s.width = 178;
            },
            border: { display: false },
            grid: {
              color: "#FFFFFF",
              lineWidth: (c: any) => (c.tick && isMajorY(c.tick.value) ? 3.5 : 1.8),
              drawTicks: true,
              tickLength: 9,
              tickWidth: 3.5,
              tickColor: (c: any) => (c.tick && isMajorY(c.tick.value) ? "#333333" : "rgba(0,0,0,0)"),
            },
            ticks: {
              autoSkip: false,
              padding: 8,
              color: "#4D4D4D",
              font: { family: FONT, size: 28 },
              callback: (v: any) => (isMajorY(v) ? Number(v).toFixed(2) : ""),
            },
            title: {
              display: true,
              text: "Mean variant A (%)",
              color: "#000000",
              font: { family: FONT, size: 35 },
              padding: { top: 48, bottom: 0 },
            },
          },
        },
      } as any,
    });
    return () => chart.destroy();
  }, [cfg]);
  return (
    <canvas
      ref={ref}
      width={cfg.width}
      height={ROW_H}
      style={{ position: "absolute", left: cfg.left, top: cfg.top, width: cfg.width, height: ROW_H }}
    />
  );
}

export default function App() {
  return (
    <div
      style={{
        position: "absolute",
        left: 0,
        top: 0,
        width: 3006,
        height: 1934,
        overflow: "hidden",
        background: "#FFFFFF",
      }}
    >
      {panels.map((p, i) => (
        <Panel key={i} cfg={p} />
      ))}
    </div>
  );
}
